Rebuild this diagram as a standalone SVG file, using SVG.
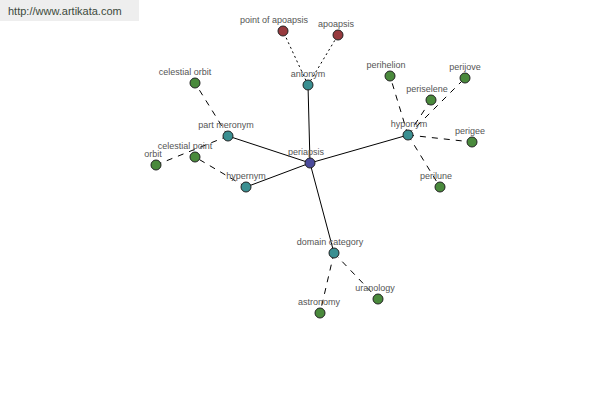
<svg xmlns="http://www.w3.org/2000/svg" width="600" height="400" viewBox="0 0 600 400">
<style>
.e{stroke:#000;stroke-width:1;fill:none}
.d{stroke:#000;stroke-width:1;fill:none;stroke-dasharray:6,6}
.o{stroke:#000;stroke-width:1;fill:none;stroke-dasharray:2,3}
.n{stroke:#222;stroke-width:1}
.g{fill:#4a8a3c}
.t{fill:#3a8f91}
.r{fill:#973a3e}
.b{fill:#4b4b9c}
text{font-family:"Liberation Sans",Arial,sans-serif;font-size:9px;fill:#555;text-anchor:middle}
</style>
<rect x="0" y="0" width="139" height="21" fill="#eeeeee"/>
<text x="8" y="15" style="text-anchor:start;font-size:11px;fill:#3c4a3c">http://www.artikata.com</text>
<g id="connectors">
<line class="e" x1="310" y1="163" x2="308" y2="85"/>
<line class="e" x1="310" y1="163" x2="228" y2="136"/>
<line class="e" x1="310" y1="163" x2="246" y2="187"/>
<line class="e" x1="310" y1="163" x2="408" y2="135"/>
<line class="e" x1="310" y1="163" x2="334" y2="253"/>
<line class="o" x1="308" y1="85" x2="283" y2="31"/>
<line class="o" x1="308" y1="85" x2="338" y2="35"/>
<line class="d" x1="228" y1="136" x2="195" y2="83"/>
<line class="d" x1="228" y1="136" x2="156" y2="165"/>
<line class="d" x1="246" y1="187" x2="195" y2="157"/>
<line class="d" x1="408" y1="135" x2="390" y2="76"/>
<line class="d" x1="408" y1="135" x2="465" y2="78"/>
<line class="d" x1="408" y1="135" x2="431" y2="100"/>
<line class="d" x1="408" y1="135" x2="472" y2="142"/>
<line class="d" x1="408" y1="135" x2="440" y2="187"/>
<line class="d" x1="334" y1="253" x2="320" y2="313"/>
<line class="d" x1="334" y1="253" x2="378" y2="299"/>
</g>
<g id="periapsis"><circle class="n b" cx="310" cy="163" r="5"/><text x="306" y="155">periapsis</text></g>
<g id="antonym"><circle class="n t" cx="308" cy="85" r="5"/><text x="308" y="77">antonym</text></g>
<g id="point-of-apoapsis"><circle class="n r" cx="283" cy="31" r="5"/><text x="274" y="23">point of apoapsis</text></g>
<g id="apoapsis"><circle class="n r" cx="338" cy="35" r="5"/><text x="336" y="27">apoapsis</text></g>
<g id="part-meronym"><circle class="n t" cx="228" cy="136" r="5"/><text x="226" y="128">part meronym</text></g>
<g id="celestial-orbit"><circle class="n g" cx="195" cy="83" r="5"/><text x="185" y="75">celestial orbit</text></g>
<g id="celestial-point"><circle class="n g" cx="195" cy="157" r="5"/><text x="185" y="149">celestial point</text></g>
<g id="orbit"><circle class="n g" cx="156" cy="165" r="5"/><text x="153" y="157">orbit</text></g>
<g id="hypernym"><circle class="n t" cx="246" cy="187" r="5"/><text x="246" y="179">hypernym</text></g>
<g id="hyponym"><circle class="n t" cx="408" cy="135" r="5"/><text x="409" y="127">hyponym</text></g>
<g id="perihelion"><circle class="n g" cx="390" cy="76" r="5"/><text x="386" y="68">perihelion</text></g>
<g id="perijove"><circle class="n g" cx="465" cy="78" r="5"/><text x="465" y="70">perijove</text></g>
<g id="periselene"><circle class="n g" cx="431" cy="100" r="5"/><text x="427" y="92">periselene</text></g>
<g id="perigee"><circle class="n g" cx="472" cy="142" r="5"/><text x="470" y="134">perigee</text></g>
<g id="perilune"><circle class="n g" cx="440" cy="187" r="5"/><text x="436" y="179">perilune</text></g>
<g id="domain-category"><circle class="n t" cx="334" cy="253" r="5"/><text x="330" y="245">domain category</text></g>
<g id="astronomy"><circle class="n g" cx="320" cy="313" r="5"/><text x="319" y="305">astronomy</text></g>
<g id="uranology"><circle class="n g" cx="378" cy="299" r="5"/><text x="375" y="291">uranology</text></g>
</svg>
